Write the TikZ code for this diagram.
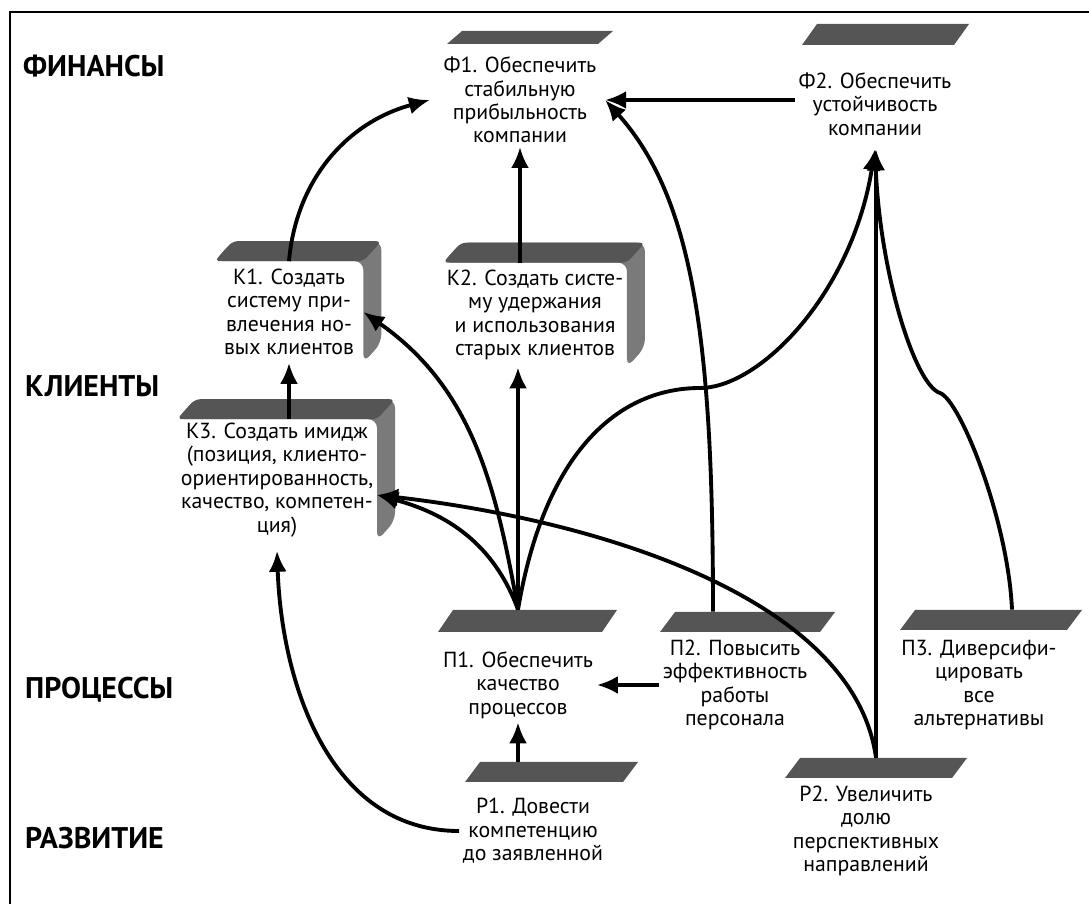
\documentclass[tikz,border=0pt]{standalone}
\usepackage{fontspec}
\setmainfont{PT Sans}
\usepackage{tikz}
\usetikzlibrary{arrows.meta, positioning}

\tikzset{
  goal/.style={align=center, inner sep=2pt, font=\fontsize{12.4}{13.3}\selectfont},
  bar/.style={inner sep=0pt, minimum height=0.4cm,
    path picture={\fill[bartop] (path picture bounding box.south west) -- ([xshift=-3mm]path picture bounding box.south east) -- (path picture bounding box.north east) -- ([xshift=3mm]path picture bounding box.north west) -- cycle;}},
  lane/.style={anchor=west, font=\fontsize{17}{19}\selectfont\bfseries},
  link/.style={-{Latex[length=4.2mm,width=3.6mm]}, line width=2.2pt},
}

% grey top and side of a client box
\newcommand{\kbox}[1]{%
  \fill[barside, rounded corners=5pt] (#1.north west) -- ++(0.36,0.4) -- ([shift={(0.36,0.4)}]#1.north east) -- ([shift={(0.36,0.4)}]#1.south east) -- (#1.south east) -- (#1.north east) -- cycle;
  \fill[bartop, rounded corners=3pt] (#1.north west) -- ++(0.36,0.4) -- ([shift={(0.36,0.4)}]#1.north east) -- (#1.north east) -- cycle;}

\begin{document}
\begin{tikzpicture}
  \definecolor{bartop}{HTML}{555555}
  \definecolor{barside}{HTML}{7A7A7A}
  \useasboundingbox (0,0) rectangle (21.78,-18.08);

  % Frame
  \draw[line width=0.8pt] (0.2,-18.08) -- (0.2,-0.24) -- (21.78,-0.24);

  % Lanes
  \node[lane] (fin) at (0.34,-1.32) {ФИНАНСЫ};
  \node[lane] (cli) at (0.38,-7.72) {КЛИЕНТЫ};
  \node[lane] (proc) at (0.38,-13.8) {ПРОЦЕССЫ};
  \node[lane] (dev) at (0.38,-16.76) {РАЗВИТИЕ};

  % Define positions
  \node[goal] (f1) at (10.4,-2.0) {Ф1. Обеспечить\\стабильную\\прибыльность\\компании};
  \node[goal] (f2) at (17.5,-2.08) {Ф2. Обеспечить\\устойчивость\\компании};

  \node[goal, minimum width=2.96cm, minimum height=2.02cm] (k1) at (5.78,-6.24) {К1. Создать\\систему при-\\влечения но-\\вых клиентов};
  \node[goal, minimum width=3.5cm, minimum height=2.08cm] (k2) at (10.7,-6.3) {К2. Создать систе-\\му удержания\\и использования\\старых клиентов};
  \node[goal, minimum width=3.86cm, minimum height=2.4cm] (k3) at (5.54,-9.6) {К3. Создать имидж\\(позиция, клиенто-\\ориентированность,\\качество, компетен-\\ция)};

  \node[goal] (p1) at (10.36,-13.7) {П1. Обеспечить\\качество\\процессов};
  \node[goal] (p2) at (14.7,-13.7) {П2. Повысить\\эффективность\\работы\\персонала};
  \node[goal] (p3) at (19.58,-13.7) {П3. Диверсифи-\\цировать\\все\\альтернативы};

  \node[goal] (r1) at (10.66,-16.62) {Р1. Довести\\компетенцию\\до заявленной};
  \node[goal] (r2) at (17.32,-16.62) {Р2. Увеличить\\долю\\перспективных\\направлений};

  % Bars
  \node[bar, minimum width=3.32cm, minimum height=0.26cm] (f1b) at (10.6,-0.75) {};
  \node[bar, minimum width=3.34cm, minimum height=0.42cm] (f2b) at (17.71,-0.69) {};
  \node[bar, minimum width=3.58cm, minimum height=0.44cm] (p1b) at (10.55,-12.42) {};
  \node[bar, minimum width=3.5cm] (p2b) at (14.95,-12.44) {};
  \node[bar, minimum width=3.64cm] (p3b) at (19.82,-12.4) {};
  \node[bar, minimum width=3.46cm] (r1b) at (11.03,-15.44) {};
  \node[bar, minimum width=3.64cm] (r2b) at (17.52,-15.36) {};
  \kbox{k1}
  \kbox{k2}
  \kbox{k3}

  \coordinate (p1f2) at (14,-7.76);
  \coordinate (p3f2) at (18.8,-7.86);

  % Arrows
  \draw[link] (k1.north) to[out=85, in=195] ([xshift=-2mm]f1.west);
  \draw[link] (f1.south |- k2.north) -- (f1.south);
  \draw[link] (f2.west |- f1.east) -- ([xshift=1mm]f1.east);
  \draw[link] ([xshift=-6.9mm]p2b.north) .. controls +(0,5.24) and +(1.8,-2) .. ([xshift=1mm]f1.east);

  \draw[link] (k1.south |- k3.north) -- (k1.south);
  \draw[link] (p1.north |- p1b.north) to[out=100, in=-35] (k1.east);
  \draw[link] (p1.north |- p1b.north) -- (p1.north |- k2.south);
  \draw[link] (p1.north |- p1b.north) to[out=110, in=-15] ([yshift=-3mm]k3.east);
  \draw[link] (r2b.north) .. controls +(-0.44,3.16) and +(4.52,-0.52) .. ([yshift=-3mm]k3.east);
  \draw[link] (r1.west) to[out=180, in=-88] ([yshift=-2mm]k3.south);

  \draw[link] (p1.north |- p1b.north) .. controls +(0.54,3.2) and +(-1.6,0) .. (p1f2) .. controls +(1.2,0) and +(-0.46,-2.88) .. ([yshift=-2mm]f2.south);
  \draw[link] (r2b.north) -- ([yshift=-2mm]r2b.north |- f2.south);
  \draw[link] ([xshift=4.2mm]p3b.north) .. controls +(-0.08,1.8) and +(0.4,-0.14) .. (p3f2) .. controls +(-0.5,0.16) and +(0.1,-2.48) .. ([yshift=-2mm]f2.south);

  \draw[link] (p2.west) -- (p1.east);
  \draw[link] (p1.south |- r1b.north) -- (p1.south);
\end{tikzpicture}
\end{document}
